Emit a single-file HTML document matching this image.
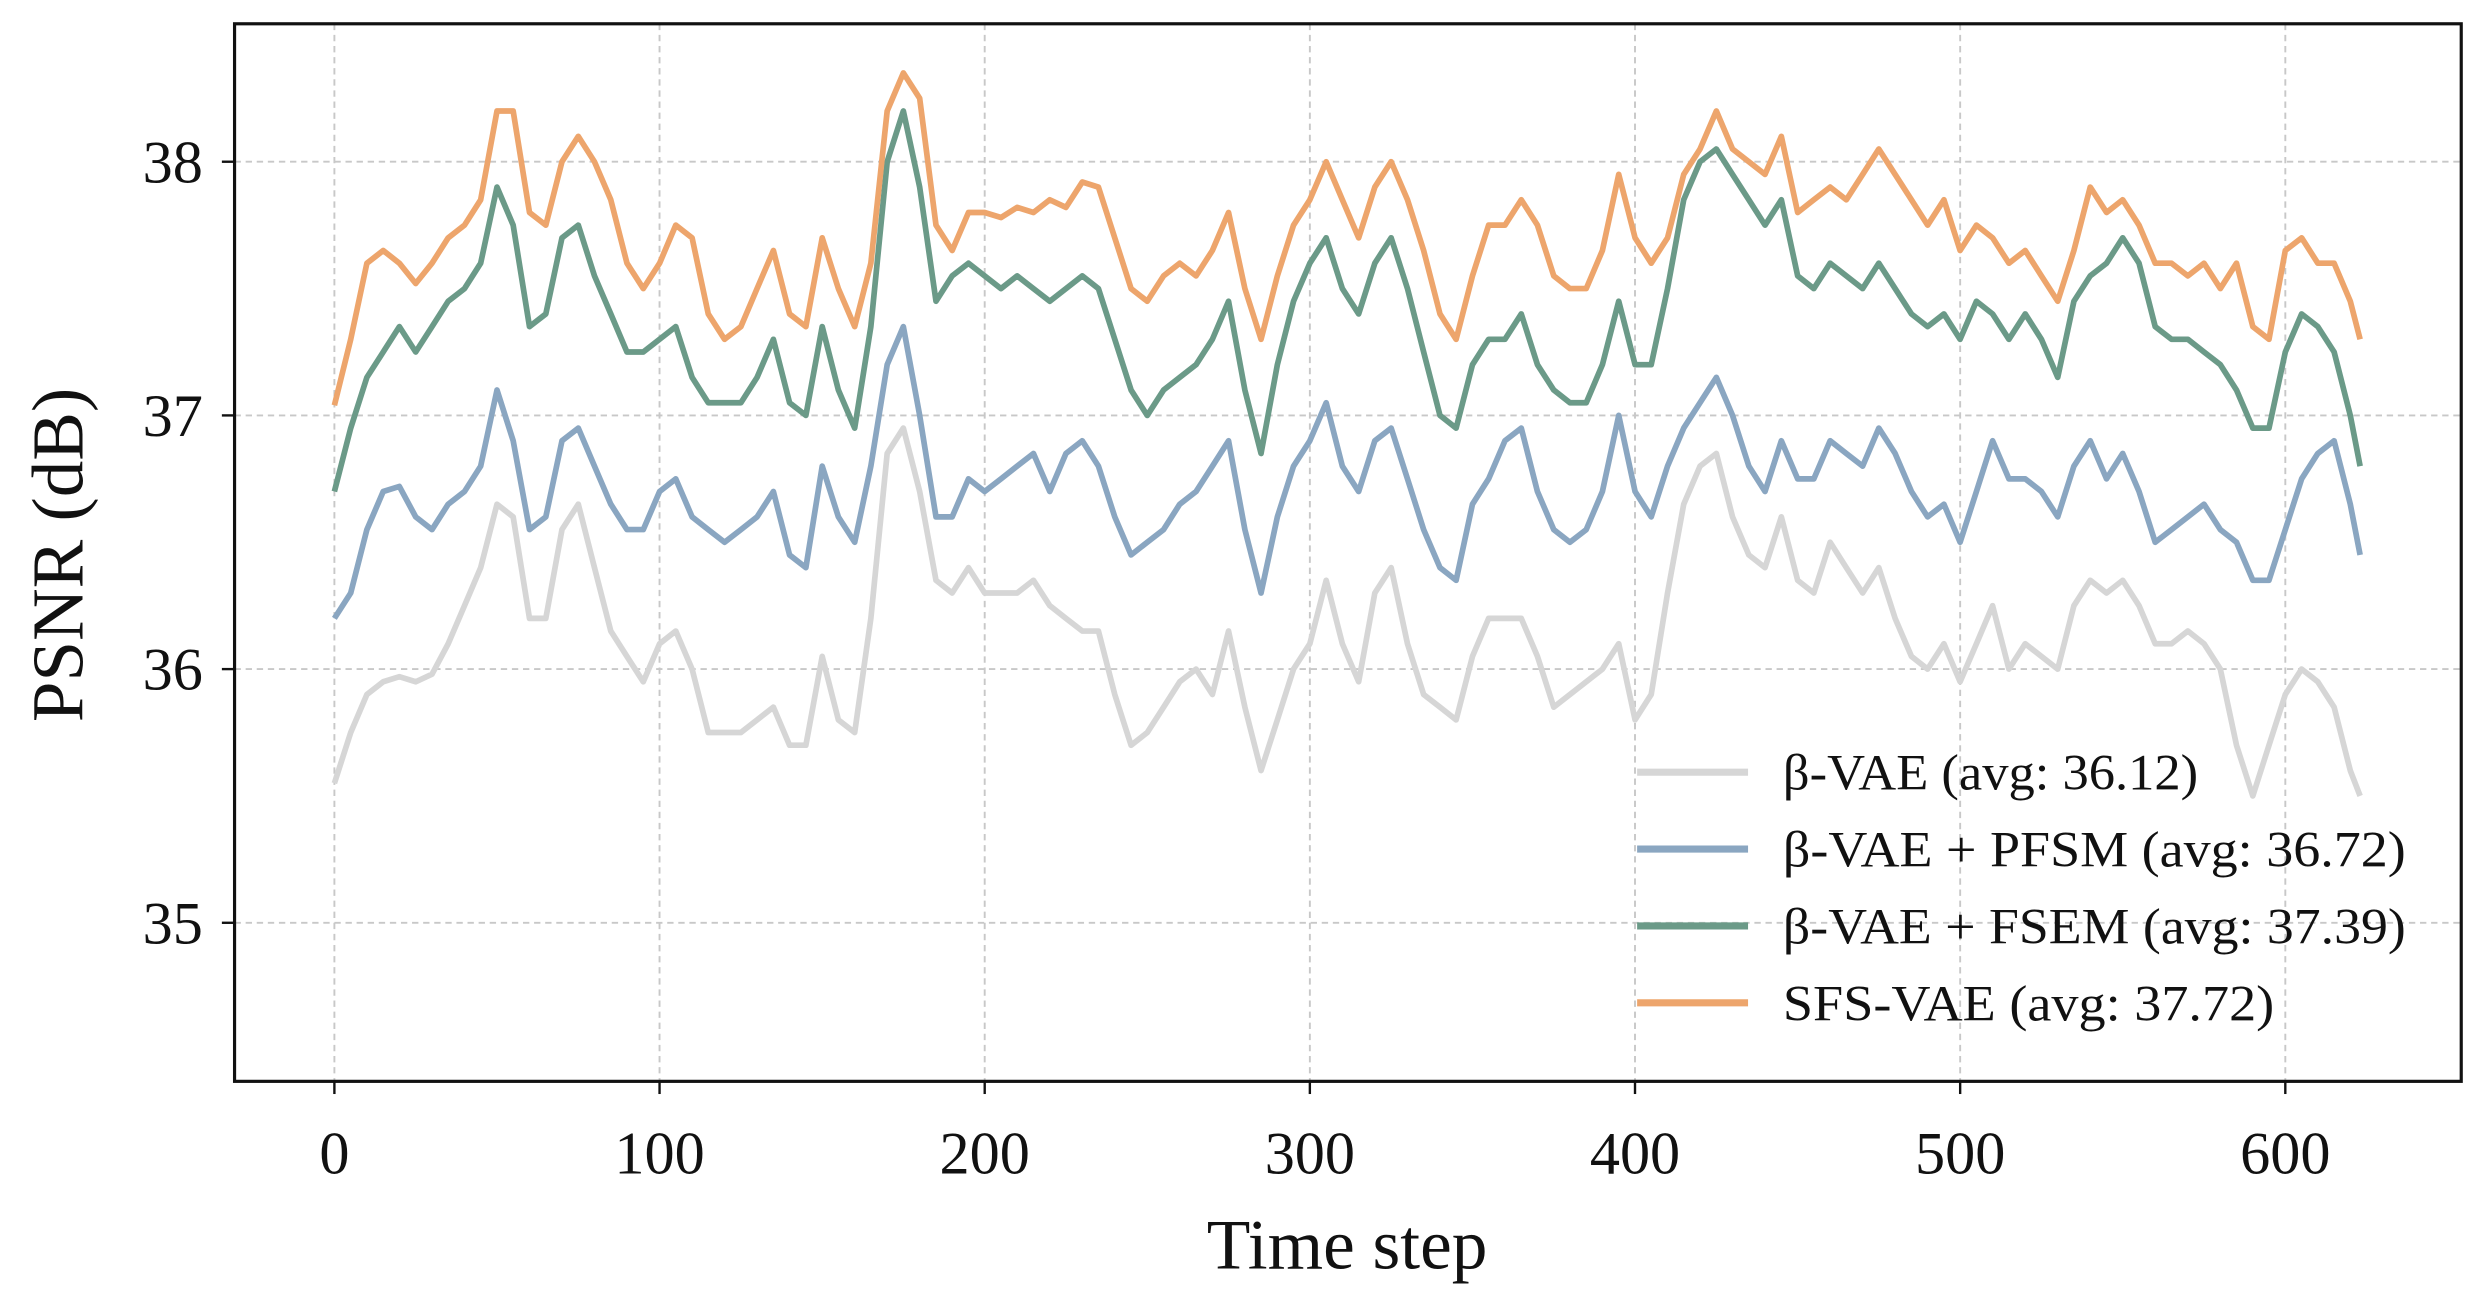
<!DOCTYPE html>
<html><head><meta charset="utf-8"><style>
html,body{margin:0;padding:0;background:#fff;}
svg{display:block;}
text{font-family:"Liberation Serif",serif;fill:#111;}
</style></head><body>
<svg id="chart" width="2485" height="1316" viewBox="0 0 1568 830" preserveAspectRatio="none" xmlns="http://www.w3.org/2000/svg">
<g id="grid"></g>
<g id="series"></g>
<rect x="148" y="15" width="1405" height="667" fill="none" stroke="#111" stroke-width="2"/>
<g id="xticks"></g>
<g id="yticks"></g>
<text x="850" y="800" font-size="45" text-anchor="middle">Time step</text>
<text x="0" y="0" font-size="46" text-anchor="middle" transform="translate(52,350) rotate(-90)">PSNR (dB)</text>
<g id="legend"></g>
</svg>
<script>
const xTicks=[0,100,200,300,400,500,600];
const yTicks=[35,36,37,38];
const seriesNames=["β-VAE (avg: 36.12)","β-VAE + PFSM (avg: 36.72)","β-VAE + FSEM (avg: 37.39)","SFS-VAE (avg: 37.72)"];
const steps=[];for(let s=0;s<=620;s+=5)steps.push(s);steps.push(623);
const gray=[35.55,35.75,35.9,35.95,35.97,35.95,35.98,36.1,36.25,36.4,36.65,36.6,36.2,36.2,36.55,36.65,36.4,36.15,36.05,35.95,36.1,36.15,36.0,35.75,35.75,35.75,35.8,35.85,35.7,35.7,36.05,35.8,35.75,36.2,36.85,36.95,36.7,36.35,36.3,36.4,36.3,36.3,36.3,36.35,36.25,36.2,36.15,36.15,35.9,35.7,35.75,35.85,35.95,36.0,35.9,36.15,35.85,35.6,35.8,36.0,36.1,36.35,36.1,35.95,36.3,36.4,36.1,35.9,35.85,35.8,36.05,36.2,36.2,36.2,36.05,35.85,35.9,35.95,36.0,36.1,35.8,35.9,36.3,36.65,36.8,36.85,36.6,36.45,36.4,36.6,36.35,36.3,36.5,36.4,36.3,36.4,36.2,36.05,36.0,36.1,35.95,36.1,36.25,36.0,36.1,36.05,36.0,36.25,36.35,36.3,36.35,36.25,36.1,36.1,36.15,36.1,36.0,35.7,35.5,35.7,35.9,36.0,35.95,35.85,35.6,35.5];
const blue=[36.2,36.3,36.55,36.7,36.72,36.6,36.55,36.65,36.7,36.8,37.1,36.9,36.55,36.6,36.9,36.95,36.8,36.65,36.55,36.55,36.7,36.75,36.6,36.55,36.5,36.55,36.6,36.7,36.45,36.4,36.8,36.6,36.5,36.8,37.2,37.35,37.0,36.6,36.6,36.75,36.7,36.75,36.8,36.85,36.7,36.85,36.9,36.8,36.6,36.45,36.5,36.55,36.65,36.7,36.8,36.9,36.55,36.3,36.6,36.8,36.9,37.05,36.8,36.7,36.9,36.95,36.75,36.55,36.4,36.35,36.65,36.75,36.9,36.95,36.7,36.55,36.5,36.55,36.7,37.0,36.7,36.6,36.8,36.95,37.05,37.15,37.0,36.8,36.7,36.9,36.75,36.75,36.9,36.85,36.8,36.95,36.85,36.7,36.6,36.65,36.5,36.7,36.9,36.75,36.75,36.7,36.6,36.8,36.9,36.75,36.85,36.7,36.5,36.55,36.6,36.65,36.55,36.5,36.35,36.35,36.55,36.75,36.85,36.9,36.65,36.45];
const green=[36.7,36.95,37.15,37.25,37.35,37.25,37.35,37.45,37.5,37.6,37.9,37.75,37.35,37.4,37.7,37.75,37.55,37.4,37.25,37.25,37.3,37.35,37.15,37.05,37.05,37.05,37.15,37.3,37.05,37.0,37.35,37.1,36.95,37.35,38.0,38.2,37.9,37.45,37.55,37.6,37.55,37.5,37.55,37.5,37.45,37.5,37.55,37.5,37.3,37.1,37.0,37.1,37.15,37.2,37.3,37.45,37.1,36.85,37.2,37.45,37.6,37.7,37.5,37.4,37.6,37.7,37.5,37.25,37.0,36.95,37.2,37.3,37.3,37.4,37.2,37.1,37.05,37.05,37.2,37.45,37.2,37.2,37.5,37.85,38.0,38.05,37.95,37.85,37.75,37.85,37.55,37.5,37.6,37.55,37.5,37.6,37.5,37.4,37.35,37.4,37.3,37.45,37.4,37.3,37.4,37.3,37.15,37.45,37.55,37.6,37.7,37.6,37.35,37.3,37.3,37.25,37.2,37.1,36.95,36.95,37.25,37.4,37.35,37.25,37.0,36.8];
const orange=[37.04,37.3,37.6,37.65,37.6,37.52,37.6,37.7,37.75,37.85,38.2,38.2,37.8,37.75,38.0,38.1,38.0,37.85,37.6,37.5,37.6,37.75,37.7,37.4,37.3,37.35,37.5,37.65,37.4,37.35,37.7,37.5,37.35,37.6,38.2,38.35,38.25,37.75,37.65,37.8,37.8,37.78,37.82,37.8,37.85,37.82,37.92,37.9,37.7,37.5,37.45,37.55,37.6,37.55,37.65,37.8,37.5,37.3,37.55,37.75,37.85,38.0,37.85,37.7,37.9,38.0,37.85,37.65,37.4,37.3,37.55,37.75,37.75,37.85,37.75,37.55,37.5,37.5,37.65,37.95,37.7,37.6,37.7,37.95,38.05,38.2,38.05,38.0,37.95,38.1,37.8,37.85,37.9,37.85,37.95,38.05,37.95,37.85,37.75,37.85,37.65,37.75,37.7,37.6,37.65,37.55,37.45,37.65,37.9,37.8,37.85,37.75,37.6,37.6,37.55,37.6,37.5,37.6,37.35,37.3,37.65,37.7,37.6,37.6,37.45,37.3];
const seriesData=[gray,blue,green,orange];
const colors=["#d6d6d6","#8aa6c1","#6b9a88","#eda56c"];
const NS="http://www.w3.org/2000/svg";
function xs(v){return 211+(v/600)*(1442-211);}
function ys(v){return 102+(38-v)*160;}
function mk(tag,attrs,parent){const e=document.createElementNS(NS,tag);for(const k in attrs)e.setAttribute(k,attrs[k]);parent.appendChild(e);return e;}
const grid=document.getElementById('grid'),xg=document.getElementById('xticks'),yg=document.getElementById('yticks');
xTicks.forEach(t=>{
  const l=mk('line',{x1:xs(t),x2:xs(t),y1:15,y2:682,stroke:'#c8c8c8','stroke-width':1.2,'stroke-dasharray':'4,3'},grid);
  
  
  const tk=mk('line',{x1:xs(t),x2:xs(t),y1:682,y2:690,stroke:'#111','stroke-width':1.5},xg);
  
  
  const tx=mk('text',{x:xs(t),y:740,'font-size':38,'text-anchor':'middle'},xg);
  tx.textContent=t;
  
  
});
yTicks.forEach(t=>{
  const l=mk('line',{x1:148,x2:1553,y1:ys(t),y2:ys(t),stroke:'#c8c8c8','stroke-width':1.2,'stroke-dasharray':'4,3'},grid);
  
  
  const tk=mk('line',{x1:140,x2:148,y1:ys(t),y2:ys(t),stroke:'#111','stroke-width':1.5},yg);
  
  
  const tx=mk('text',{x:128,y:ys(t)+13,'font-size':38,'text-anchor':'end'},yg);
  tx.textContent=t;
  
  
});
const sg=document.getElementById('series');
seriesData.forEach((arr,i)=>{
  const d=arr.map((v,j)=>(j?'L':'M')+xs(steps[j]).toFixed(1)+','+ys(v).toFixed(1)).join('');
  const p=mk('path',{d:d,fill:'none',stroke:colors[i],'stroke-width':3.6,'stroke-linejoin':'round'},sg);
  
  
});
const lg=document.getElementById('legend');
const lw=[262,393,393,310];
seriesNames.forEach((n,i)=>{
  const y=487+i*48.5;
  const l=mk('line',{x1:1033,x2:1103,y1:y,y2:y,stroke:colors[i],'stroke-width':4.5},lg);
  
  
  const t=mk('text',{x:1125,y:y+11,'font-size':32,textLength:lw[i],lengthAdjust:'spacingAndGlyphs'},lg);
  t.textContent=n;
  
  
});
</script>
</body></html>
